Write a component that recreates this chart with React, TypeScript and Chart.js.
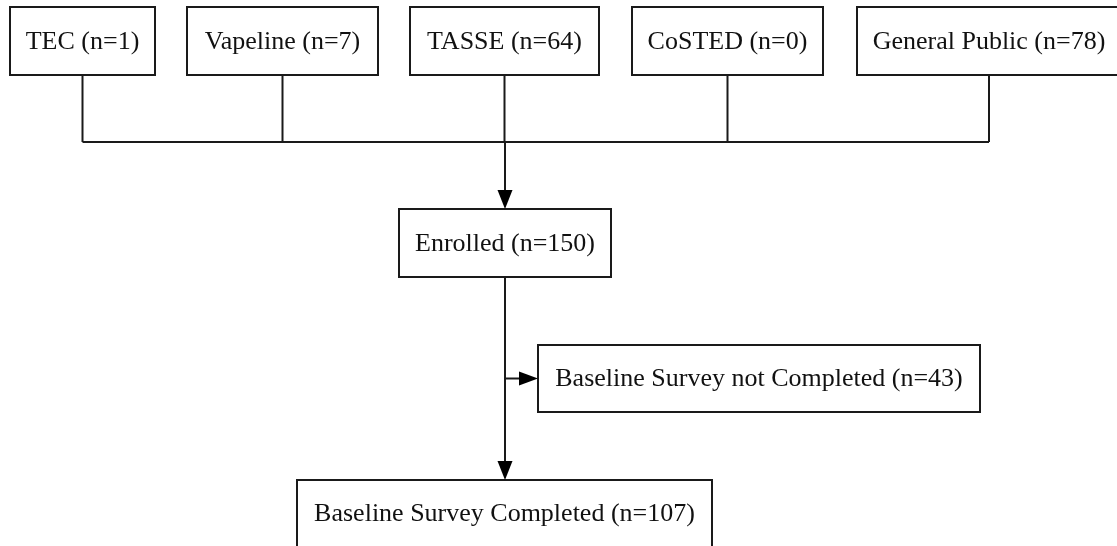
import React, { useEffect, useRef } from "react";
import { Chart, registerables } from "chart.js";

Chart.register(...registerables);

// ---- data ----
const sourceNames = ["TEC", "Vapeline", "TASSE", "CoSTED", "General Public"];
const sourceCounts = [1, 7, 64, 0, 78];
const stageNames = ["Enrolled", "Baseline Survey not Completed", "Baseline Survey Completed"];
const stageCounts = [150, 43, 107];

// ---- layout (in scale units = pixels of a 1117x546 frame) ----
const W = 1117;
const H = 546;
const sourceX = [
  [10, 155],
  [187, 378],
  [410, 599],
  [632, 823],
  [857, 1121],
];
const sourceY = [7, 75];
const stageBoxes = [
  { x0: 399, x1: 611, y0: 209, y1: 277 },
  { x0: 538, x1: 980, y0: 345, y1: 412 },
  { x0: 297, x1: 712, y0: 480, y1: 547 },
];
const busY = 142;
const trunkX = 505;
const branchY = 378.5;
const arrowLen = 19;
const arrowHalf = 7.5;

const LINE = "#1a1a1a";
const FONT = '26px "Liberation Serif", "Times New Roman", serif';

function label(name: string, n: number) {
  return `${name} (n=${n})`;
}

export default function App() {
  const ref = useRef<HTMLCanvasElement | null>(null);

  useEffect(() => {
    const canvas = ref.current;
    if (!canvas) return;

    const stemX = sourceX.map(([a, b], i) => (i === sourceX.length - 1 ? 989 : (a + b) / 2));
    const seg = (pts: number[][]) => ({
      data: pts.map(([x, y]) => ({ x, y })),
      showLine: true,
      borderColor: LINE,
      borderWidth: 2,
      pointRadius: 0,
      fill: false,
    });

    const datasets: any[] = [];
    stemX.forEach((x) => datasets.push(seg([[x, sourceY[1]], [x, busY]])));
    datasets.push(seg([[stemX[0], busY], [stemX[stemX.length - 1], busY]]));
    datasets.push(seg([[trunkX, busY], [trunkX, stageBoxes[0].y0 - arrowLen + 1]]));
    datasets.push(seg([[trunkX, stageBoxes[0].y1], [trunkX, stageBoxes[2].y0 - arrowLen + 1]]));
    datasets.push(seg([[trunkX, branchY], [stageBoxes[1].x0 - arrowLen + 1, branchY]]));

    const boxesPlugin = {
      id: "flowBoxes",
      beforeDatasetsDraw(chart: any) {
        const { ctx } = chart;
        ctx.save();
        ctx.fillStyle = "#ffffff";
        ctx.fillRect(0, 0, chart.width, chart.height);
        ctx.restore();
      },
      afterDatasetsDraw(chart: any) {
        const { ctx, scales } = chart;
        const px = (v: number) => scales.x.getPixelForValue(v);
        const py = (v: number) => scales.y.getPixelForValue(v);
        const rect = (x0: number, x1: number, y0: number, y1: number, text: string, cx: number) => {
          const a = Math.round(px(x0));
          const b = Math.round(px(x1));
          const c = Math.round(py(y0));
          const d = Math.round(py(y1));
          ctx.fillStyle = "#ffffff";
          ctx.fillRect(a, c, b - a, d - c);
          ctx.strokeStyle = LINE;
          ctx.lineWidth = 2;
          ctx.strokeRect(a, c, b - a, d - c);
          ctx.fillStyle = "#111111";
          ctx.font = FONT;
          ctx.textAlign = "center";
          ctx.textBaseline = "middle";
          ctx.fillText(text, px(cx), (py(y0) + py(y1)) / 2 + 1);
        };
        const tri = (pts: number[][]) => {
          ctx.beginPath();
          pts.forEach(([x, y], i) => (i ? ctx.lineTo(px(x), py(y)) : ctx.moveTo(px(x), py(y))));
          ctx.closePath();
          ctx.fillStyle = "#000000";
          ctx.fill();
        };
        ctx.save();
        sourceNames.forEach((n, i) => {
          const [x0, x1] = sourceX[i];
          rect(x0, x1, sourceY[0], sourceY[1], label(n, sourceCounts[i]), stemX[i]);
        });
        stageNames.forEach((n, i) => {
          const b = stageBoxes[i];
          rect(b.x0, b.x1, b.y0, b.y1, label(n, stageCounts[i]), (b.x0 + b.x1) / 2);
        });
        // arrowheads
        const e = stageBoxes[0];
        tri([[trunkX, e.y0], [trunkX - arrowHalf, e.y0 - arrowLen], [trunkX + arrowHalf, e.y0 - arrowLen]]);
        const c = stageBoxes[2];
        tri([[trunkX, c.y0], [trunkX - arrowHalf, c.y0 - arrowLen], [trunkX + arrowHalf, c.y0 - arrowLen]]);
        const nc = stageBoxes[1];
        tri([[nc.x0, branchY], [nc.x0 - arrowLen, branchY - arrowHalf + 0.5], [nc.x0 - arrowLen, branchY + arrowHalf - 0.5]]);
        ctx.restore();
      },
    };

    const chart = new Chart(canvas, {
      type: "scatter",
      data: { datasets },
      options: {
        animation: false,
        responsive: false,
        maintainAspectRatio: false,
        layout: { padding: 0 },
        plugins: { legend: { display: false }, tooltip: { enabled: false } },
        events: [],
        scales: {
          x: { type: "linear", min: 0, max: W, display: false },
          y: { type: "linear", min: 0, max: H, reverse: true, display: false },
        },
      },
      plugins: [boxesPlugin],
    });
    return () => chart.destroy();
  }, []);

  return (
    <div style={{ position: "fixed", left: 0, top: 0, width: W, height: H, background: "#fff" }}>
      <canvas ref={ref} width={W} height={H} style={{ display: "block", width: W, height: H }} />
    </div>
  );
}
